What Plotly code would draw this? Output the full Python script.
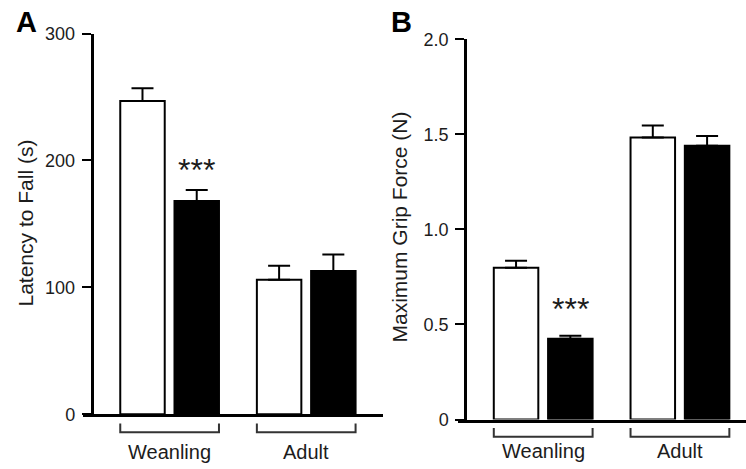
import plotly.graph_objects as go

# ---------------- data ----------------
groups = ["Weanling", "Adult"]

latency_control = [246.8, 106.0]
latency_control_err = [10.0, 11.0]
latency_treated = [168.0, 112.9]
latency_treated_err = [8.7, 13.0]

grip_control = [0.798, 1.484]
grip_control_err = [0.037, 0.063]
grip_treated = [0.425, 1.440]
grip_treated_err = [0.016, 0.051]

latency_ticks = [0, 100, 200, 300]
latency_ticklabels = ["0", "100", "200", "300"]
grip_ticks = [0, 0.5, 1.0, 1.5, 2.0]
grip_ticklabels = ["0", "0.5", "1.0", "1.5", "2.0"]

sig_label = "***"
latency_sig_y = 196.4
grip_sig_y = 0.606

# ---------------- layout helpers ----------------
W, H = 746, 469
FONT = "Liberation Sans, Arial, sans-serif"
TXT = "#1c1c1c"

BARGAP = 0.206
BARGROUPGAP = 0.18
slot = (1 - BARGAP) / 2
barw = slot * (1 - BARGROUPGAP)
bracket_half = slot / 2 + barw / 2

def px(v):
    return v / W

def py(v):
    return (H - v) / H

fig = go.Figure()

def add_panel(xa, ya, ctrl, ctrl_err, trt, trt_err):
    xref = "x" if xa == "" else "x" + xa
    yref = "y" if ya == "" else "y" + ya
    fig.add_trace(go.Bar(
        x=groups, y=ctrl, xaxis=xref, yaxis=yref,
        marker=dict(color="white", line=dict(color="black", width=2)),
        error_y=dict(type="data", symmetric=False, array=ctrl_err,
                     arrayminus=[0] * len(ctrl_err),
                     color="black", thickness=2, width=11),
        showlegend=False, hoverinfo="skip",
    ))
    fig.add_trace(go.Bar(
        x=groups, y=trt, xaxis=xref, yaxis=yref,
        marker=dict(color="black", line=dict(color="black", width=2)),
        error_y=dict(type="data", symmetric=False, array=trt_err,
                     arrayminus=[0] * len(trt_err),
                     color="black", thickness=2, width=11),
        showlegend=False, hoverinfo="skip",
    ))

add_panel("", "", latency_control, latency_control_err, latency_treated, latency_treated_err)
add_panel("2", "2", grip_control, grip_control_err, grip_treated, grip_treated_err)

axis_line = dict(showline=True, linecolor="black", linewidth=2.5, showgrid=False,
                 zeroline=False, automargin=False)
tick_style = dict(ticks="outside", ticklen=9, tickwidth=2, tickcolor="black",
                  ticklabelstandoff=3,
                  tickfont=dict(size=18, color=TXT, family=FONT))

fig.update_layout(
    width=W, height=H,
    margin=dict(l=0, r=0, t=0, b=0, pad=0, autoexpand=False),
    paper_bgcolor="white", plot_bgcolor="white",
    showlegend=False,
    barmode="group", bargap=BARGAP, bargroupgap=BARGROUPGAP,
    font=dict(family=FONT, color=TXT),
    xaxis=dict(domain=[px(83), px(383)], range=[-0.634, 1.562], anchor="y",
               showticklabels=False, ticks="", **axis_line),
    yaxis=dict(domain=[py(414.3), py(33.5)], range=[0, 300], anchor="free", position=px(91.5),
               tickvals=latency_ticks, ticktext=latency_ticklabels,
               **tick_style, **axis_line),
    xaxis2=dict(domain=[px(458), 1.0], range=[-0.623, 1.483], anchor="y2",
                showticklabels=False, ticks="", **axis_line),
    yaxis2=dict(domain=[py(419.5), py(39.3)], range=[0, 2.0], anchor="free", position=px(465),
                tickvals=grip_ticks, ticktext=grip_ticklabels,
                **tick_style, **axis_line),
)

# brackets and category labels
for xref, yb, ytick, ylab in [("x", 432.3, 423.5, 452), ("x2", 436.7, 428.0, 451)]:
    for i, g in enumerate(groups):
        x0 = i - bracket_half
        x1 = i + bracket_half
        fig.add_shape(type="path", xref=xref, yref="paper",
                      path=f"M {x0} {py(ytick)} L {x0} {py(yb)} L {x1} {py(yb)} L {x1} {py(ytick)}",
                      line=dict(color="#333333", width=2))
        fig.add_annotation(x=i, y=py(ylab), xref=xref, yref="paper", text=g,
                           showarrow=False, xanchor="center", yanchor="middle",
                           font=dict(size=20, color=TXT, family=FONT))

# significance stars above treated weanling bars
for xref, yref, yval in [("x", "y", latency_sig_y), ("x2", "y2", grip_sig_y)]:
    fig.add_annotation(x=slot / 2, y=yval, xref=xref, yref=yref, text=sig_label,
                       showarrow=False, xanchor="center", yanchor="middle", yshift=-5,
                       font=dict(size=32, color=TXT, family=FONT))

# axis titles
fig.add_annotation(x=px(25), y=py(223.5), xref="paper", yref="paper", text="Latency to Fall (s)",
                   textangle=-90, showarrow=False, xanchor="center", yanchor="middle",
                   font=dict(size=21, color=TXT, family=FONT))
fig.add_annotation(x=px(399), y=py(227.5), xref="paper", yref="paper", text="Maximum Grip Force (N)",
                   textangle=-90, showarrow=False, xanchor="center", yanchor="middle",
                   font=dict(size=21, color=TXT, family=FONT))

# panel letters
fig.add_annotation(x=px(26.5), y=py(22), xref="paper", yref="paper", text="<b>A</b>",
                   showarrow=False, xanchor="center", yanchor="middle",
                   font=dict(size=29, color="black", family=FONT))
fig.add_annotation(x=px(401), y=py(22), xref="paper", yref="paper", text="<b>B</b>",
                   showarrow=False, xanchor="center", yanchor="middle",
                   font=dict(size=29, color="black", family=FONT))

fig.write_html("out.html", config={"responsive": False, "displayModeBar": False},
               post_script="document.body.style.margin='0';")
